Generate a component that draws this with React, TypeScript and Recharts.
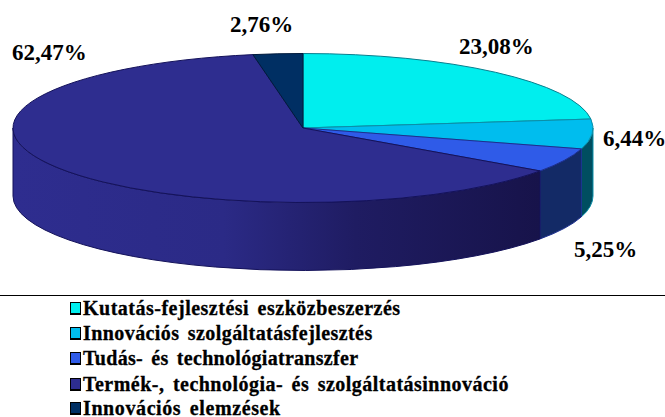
import { PieChart, Pie, Cell } from 'recharts'

const categories = [
  'Kutatás-fejlesztési eszközbeszerzés',
  'Innovációs szolgáltatásfejlesztés',
  'Tudás- és technológiatranszfer',
  'Termék-, technológia- és szolgáltatásinnováció',
  'Innovációs elemzések',
]
const values = [23.08, 6.44, 5.25, 62.47, 2.76]
const valueLabels = ['23,08%', '6,44%', '5,25%', '62,47%', '2,76%']

const topColors = ['#00eeee', '#00bdee', '#2f5be8', '#2e2d8f', '#002f63']
const seamColors = ['#0a7f8f', '#0a8fa8', '#1c2f90', '#14125a', '#001a3c']
const wallFills = ['#007a7a', '#004e60', '#132a66', 'url(#wallShade)', '#001f44']

const labelAnchors = [
  { x: 459, y: 54 },
  { x: 603, y: 146 },
  { x: 574, y: 257 },
  { x: 12, y: 60 },
  { x: 230, y: 32 },
]
const legendRows = [308, 333, 358, 384, 408]
const legendSpacing = [0.5, 0.42, 0.3, 0.48, 0.6]

const RX_RATIO = 74.5 / 290
const DEPTH = 68

const data = categories.map((name, i) => ({ name, value: values[i] }))

// recharts gives angles counter-clockwise from 3 o'clock, the ellipse wants clockwise from 12
const point = (cx: number, cy: number, r: number, angle: number) => {
  const t = ((90 - angle) * Math.PI) / 180
  return [cx + r * Math.sin(t), cy - r * RX_RATIO * Math.cos(t)]
}

const TopSlice = ({ cx, cy, outerRadius, startAngle, endAngle, fill, stroke }: any) => {
  const [x1, y1] = point(cx, cy, outerRadius, startAngle)
  const [x2, y2] = point(cx, cy, outerRadius, endAngle)
  const large = Math.abs(startAngle - endAngle) > 180 ? 1 : 0
  const ry = outerRadius * RX_RATIO
  return (
    <path
      d={`M${cx},${cy} L${x1},${y1} A${outerRadius},${ry} 0 ${large} 1 ${x2},${y2} Z`}
      fill={fill}
      stroke={stroke}
      strokeWidth={1}
    />
  )
}

const WallSlice = ({ cx, cy, outerRadius, startAngle, endAngle, fill, stroke }: any) => {
  // only the front half of the rim shows
  const from = Math.max(90 - startAngle, 90)
  const to = Math.min(90 - endAngle, 270)
  if (to <= from) return null
  const [x1, y1] = point(cx, cy, outerRadius, 90 - from)
  const [x2, y2] = point(cx, cy, outerRadius, 90 - to)
  const ry = outerRadius * RX_RATIO
  return (
    <path
      d={`M${x1},${y1} A${outerRadius},${ry} 0 0 1 ${x2},${y2} L${x2},${y2 + DEPTH} A${outerRadius},${ry} 0 0 0 ${x1},${y1 + DEPTH} Z`}
      fill={fill}
      stroke={stroke}
      strokeWidth={1}
    />
  )
}

const ValueLabel = ({ index }: any) => (
  <text
    x={labelAnchors[index].x}
    y={labelAnchors[index].y}
    fontFamily="'Liberation Serif'"
    fontWeight="bold"
    fontSize={23}
    fill="#000"
  >
    {valueLabels[index]}
  </text>
)

const LegendBox = () => (
  <div style={{ position: 'absolute', left: 0, top: 295, width: 665, height: 122, borderTop: '1px solid #000' }}>
    {categories.map((name, i) => (
      <div
        key={name}
        style={{
          position: 'absolute',
          left: 70,
          top: legendRows[i] - 295 - 12,
          height: 22,
          display: 'flex',
          alignItems: 'center',
          whiteSpace: 'nowrap',
        }}
      >
        <span
          style={{
            width: 9,
            height: 10,
            background: topColors[i],
            border: '1px solid #000',
            borderBottomWidth: 2,
            marginRight: 2,
          }}
        />
        <span
          style={{
            fontFamily: "'Liberation Serif'",
            fontWeight: 'bold',
            fontSize: 20,
            color: '#000',
            wordSpacing: 3,
            letterSpacing: legendSpacing[i],
            WebkitTextStroke: '0.3px #000',
          }}
        >
          {name}
        </span>
      </div>
    ))}
  </div>
)

export default function App() {
  return (
    <div style={{ position: 'absolute', left: 0, top: 0, width: 665, height: 417, background: '#fff', overflow: 'hidden' }}>
      <PieChart width={665} height={417} margin={{ top: 0, right: 0, bottom: 0, left: 0 }}>
        <defs>
          <linearGradient id="wallShade" x1="0" y1="0" x2="1" y2="0">
            <stop offset="0%" stopColor="#2e2d8f" />
            <stop offset="40%" stopColor="#2b2a86" />
            <stop offset="65%" stopColor="#1f1c62" />
            <stop offset="100%" stopColor="#17134a" />
          </linearGradient>
        </defs>
        <Pie
          data={data}
          dataKey="value"
          nameKey="name"
          cx={303}
          cy={128}
          outerRadius={290}
          startAngle={90}
          endAngle={-270}
          shape={WallSlice}
          legendType="none"
          isAnimationActive={false}
        >
          {data.map((d, i) => (
            <Cell key={d.name} fill={wallFills[i]} stroke={seamColors[i]} />
          ))}
        </Pie>
        <Pie
          data={data}
          dataKey="value"
          nameKey="name"
          cx={303}
          cy={128}
          outerRadius={290}
          startAngle={90}
          endAngle={-270}
          shape={TopSlice}
          label={ValueLabel}
          labelLine={false}
          isAnimationActive={false}
        >
          {data.map((d, i) => (
            <Cell key={d.name} fill={topColors[i]} stroke={seamColors[i]} />
          ))}
        </Pie>
      </PieChart>
      <LegendBox />
    </div>
  )
}
